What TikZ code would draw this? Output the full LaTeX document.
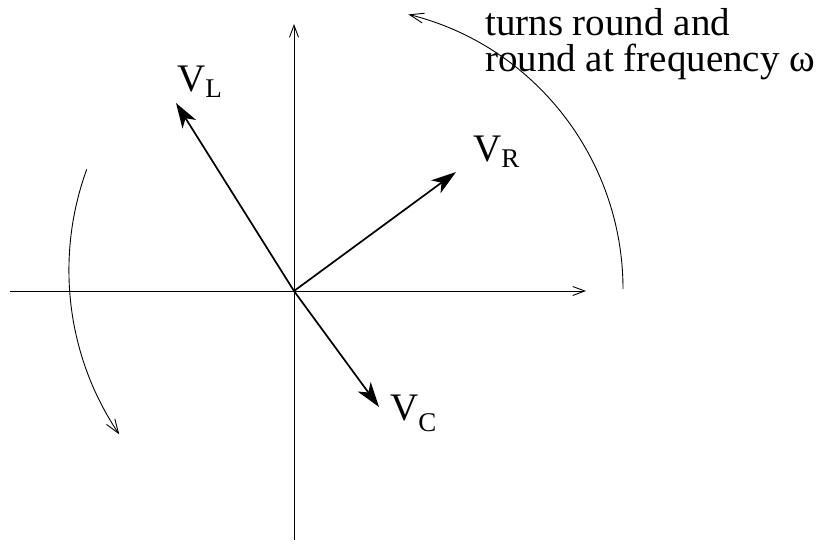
\documentclass[tikz,border=0pt]{standalone}
\usepackage{fontspec}
\setmainfont{Liberation Serif}
\usetikzlibrary{arrows.meta}
\tikzset{
  axisline/.style={line width=0.9pt, -{Straight Barb[length=12pt,width=9pt,line width=0.9pt]}},
  vecline/.style={line width=1.7pt, -{Stealth[length=25pt,width=16pt,inset=7pt]}},
  rotarc/.style={line width=0.9pt, -{Straight Barb[length=14pt,width=10pt,line width=0.9pt]}},
  lbl/.style={inner sep=0pt, anchor=base west, font=\fontsize{39}{36}\selectfont},
}
\newcommand{\subl}[2]{\raisebox{-#2pt}{\fontsize{27}{27}\selectfont #1}}
\begin{document}
\begin{tikzpicture}[x=1pt,y=-1pt]
\useasboundingbox (0,0) rectangle (827,545);
\coordinate (O) at (294,291);
\coordinate (xl) at (10,291);
\coordinate (xr) at (586,291);
\coordinate (yb) at (294,540);
\coordinate (yt) at (294,24);
\draw[axisline] (xl) -- (xr);
\draw[axisline] (yb) -- (yt);
\coordinate (tL) at (176,103);
\coordinate (tR) at (456,172);
\coordinate (tC) at (379,407);
\draw[vecline] (O) -- (tL);
\draw[vecline] (O) -- (tR);
\draw[vecline] (O) -- (tC);
\node[lbl] (VL) at (177,92) {V\subl{L}{6}};
\node[lbl] (VR) at (473,162) {V\subl{R}{6}};
\node[lbl] (VC) at (390,420) {V\subl{C}{11}};
\coordinate (ra) at (623,289);
\draw[rotarc] (ra) arc[start angle=0, end angle=76, radius=283pt];
\coordinate (la) at (86.7,169.4);
\draw[rotarc] (la) arc[start angle=160, end angle=214, radius=294pt];
\node[lbl] (t1) at (485,36) {turns round and};
\node[lbl] (t2) at (485,72) {round at frequency ω};
\end{tikzpicture}
\end{document}
